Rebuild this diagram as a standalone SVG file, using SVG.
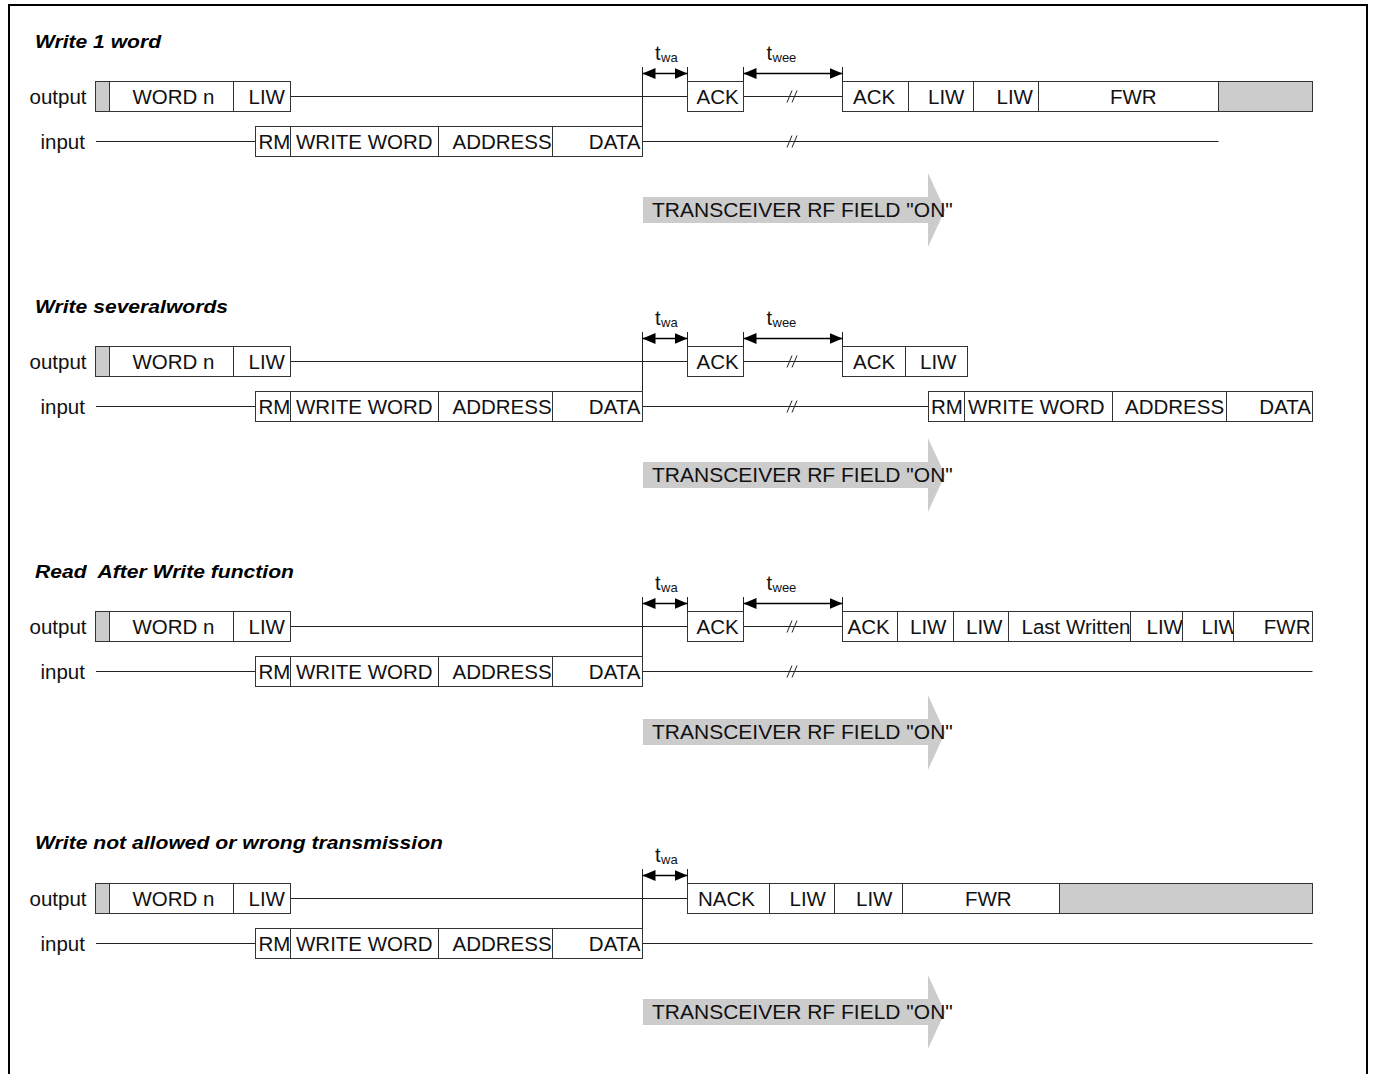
<svg xmlns="http://www.w3.org/2000/svg" width="1373" height="1074" viewBox="0 0 1373 1074">
<style>
.bx{fill:#fff;stroke:#333;stroke-width:1}
.gy{fill:#ccc;stroke:#333;stroke-width:1}
.ln{stroke:#222;stroke-width:1;fill:none}
.tk{stroke:#222;stroke-width:1;fill:none}
.dm{stroke:#000;stroke-width:1.5;fill:none;marker-start:url(#ah);marker-end:url(#ah)}
.t{font-family:"Liberation Sans",Arial,sans-serif;font-size:20.5px;fill:#111}
.ti{font-family:"Liberation Sans",Arial,sans-serif;font-size:19px;font-weight:bold;font-style:italic;fill:#000}
.tt{font-family:"Liberation Sans",Arial,sans-serif;font-size:20px;fill:#111}
.ts{font-family:"Liberation Sans",Arial,sans-serif;font-size:13px;fill:#111}
.ta{font-family:"Liberation Sans",Arial,sans-serif;font-size:21px;fill:#111}
.ar{fill:#cccccc}
.e{text-anchor:end}
</style>
<defs>
<marker id="ah" viewBox="0 0 13 11" markerWidth="13" markerHeight="11" refX="13" refY="5.5" orient="auto-start-reverse" markerUnits="userSpaceOnUse">
<path d="M0,0 L13,5.5 L0,11 z" fill="#000"/>
</marker>
</defs>
<rect width="1373" height="1074" fill="#fff"/>
<path d="M9,1074 V5 H1367 V1074" fill="none" stroke="#000" stroke-width="2"/>

<!-- Section 1 -->
<g id="sec1">
<text class="ti" x="35" y="48" textLength="126" lengthAdjust="spacingAndGlyphs">Write 1 word</text>
<text class="t" x="29.5" y="104">output</text>
<text class="t" x="40.5" y="149">input</text>
<g id="s1-connectors">
<path class="ln" d="M290.5,96.5 H687.5 M743.5,96.5 H842.5 M96,141.5 H255.5 M642.5,141.5 H1218.5"/>
<path class="ln" d="M787,102.5 L792,90.5 M792,102.5 L797,90.5 M787,147.5 L792,135.5 M792,147.5 L797,135.5"/>
<path class="tk" d="M642.5,67 V126.5 M687.5,67 V81.5 M743.5,67 V81.5 M842.5,67 V81.5"/>
<path class="dm" d="M642.5,73.5 H687.5"/>
<path class="dm" d="M743.5,73.5 H842.5"/>
<text class="tt" x="655" y="60">t</text><text class="ts" x="661" y="62">wa</text>
<text class="tt" x="766.5" y="60">t</text><text class="ts" x="772.5" y="62">wee</text>
</g>
<g id="s1-lead"><rect class="gy" x="95.5" y="81.5" width="14" height="30"/></g>
<g id="s1-wordn"><rect class="bx" x="109.5" y="81.5" width="124" height="30"/><text class="t" x="132.5" y="104">WORD n</text></g>
<g id="s1-liw0"><rect class="bx" x="233.5" y="81.5" width="57" height="30"/><text class="t" x="248.5" y="104">LIW</text></g>
<g id="s1-ack1"><rect class="bx" x="687.5" y="81.5" width="56" height="30"/><text class="t" x="696.5" y="104">ACK</text></g>
<g id="s1-ack2"><rect class="bx" x="842.5" y="81.5" width="66" height="30"/><text class="t" x="853" y="104">ACK</text></g>
<g id="s1-liw1"><rect class="bx" x="908.5" y="81.5" width="65" height="30"/><text class="t" x="928" y="104">LIW</text></g>
<g id="s1-liw2"><rect class="bx" x="973.5" y="81.5" width="65" height="30"/><text class="t" x="996.5" y="104">LIW</text></g>
<g id="s1-fwr"><rect class="bx" x="1038.5" y="81.5" width="180" height="30"/><text class="t" x="1110" y="104">FWR</text></g>
<g id="s1-tail"><rect class="gy" x="1218.5" y="81.5" width="94" height="30"/></g>
<g id="s1-rm"><rect class="bx" x="255.5" y="126.5" width="35" height="30"/><text class="t" x="258.5" y="149">RM</text></g>
<g id="s1-ww"><rect class="bx" x="290.5" y="126.5" width="148" height="30"/><text class="t" x="296" y="149">WRITE WORD</text></g>
<g id="s1-addr"><rect class="bx" x="438.5" y="126.5" width="114" height="30"/><text class="t" x="452.5" y="149">ADDRESS</text></g>
<g id="s1-data"><rect class="bx" x="552.5" y="126.5" width="90" height="30"/><text class="t e" x="640.5" y="149">DATA</text></g>
<g id="s1-field"><path class="ar" d="M643,197 H928 V173 L945,210 L928,247 V223 H643 z"/><text class="ta" x="652" y="217">TRANSCEIVER RF FIELD "ON"</text></g>
</g>

<!-- Section 2 -->
<g id="sec2" transform="translate(0,265)">
<text class="ti" x="35" y="48" textLength="193" lengthAdjust="spacingAndGlyphs">Write severalwords</text>
<text class="t" x="29.5" y="104">output</text>
<text class="t" x="40.5" y="149">input</text>
<g id="s2-connectors">
<path class="ln" d="M290.5,96.5 H687.5 M743.5,96.5 H842.5 M96,141.5 H255.5 M642.5,141.5 H928.5"/>
<path class="ln" d="M787,102.5 L792,90.5 M792,102.5 L797,90.5 M787,147.5 L792,135.5 M792,147.5 L797,135.5"/>
<path class="tk" d="M642.5,67 V126.5 M687.5,67 V81.5 M743.5,67 V81.5 M842.5,67 V81.5"/>
<path class="dm" d="M642.5,73.5 H687.5"/>
<path class="dm" d="M743.5,73.5 H842.5"/>
<text class="tt" x="655" y="60">t</text><text class="ts" x="661" y="62">wa</text>
<text class="tt" x="766.5" y="60">t</text><text class="ts" x="772.5" y="62">wee</text>
</g>
<g id="s2-lead"><rect class="gy" x="95.5" y="81.5" width="14" height="30"/></g>
<g id="s2-wordn"><rect class="bx" x="109.5" y="81.5" width="124" height="30"/><text class="t" x="132.5" y="104">WORD n</text></g>
<g id="s2-liw0"><rect class="bx" x="233.5" y="81.5" width="57" height="30"/><text class="t" x="248.5" y="104">LIW</text></g>
<g id="s2-ack1"><rect class="bx" x="687.5" y="81.5" width="56" height="30"/><text class="t" x="696.5" y="104">ACK</text></g>
<g id="s2-ack2"><rect class="bx" x="842.5" y="81.5" width="63" height="30"/><text class="t" x="853" y="104">ACK</text></g>
<g id="s2-liw1"><rect class="bx" x="905.5" y="81.5" width="62" height="30"/><text class="t" x="920" y="104">LIW</text></g>
<g id="s2-rm"><rect class="bx" x="255.5" y="126.5" width="35" height="30"/><text class="t" x="258.5" y="149">RM</text></g>
<g id="s2-ww"><rect class="bx" x="290.5" y="126.5" width="148" height="30"/><text class="t" x="296" y="149">WRITE WORD</text></g>
<g id="s2-addr"><rect class="bx" x="438.5" y="126.5" width="114" height="30"/><text class="t" x="452.5" y="149">ADDRESS</text></g>
<g id="s2-data"><rect class="bx" x="552.5" y="126.5" width="90" height="30"/><text class="t e" x="640.5" y="149">DATA</text></g>
<g id="s2-rm2"><rect class="bx" x="928.5" y="126.5" width="36" height="30"/><text class="t" x="931" y="149">RM</text></g>
<g id="s2-ww2"><rect class="bx" x="964.5" y="126.5" width="148" height="30"/><text class="t" x="968" y="149">WRITE WORD</text></g>
<g id="s2-addr2"><rect class="bx" x="1112.5" y="126.5" width="114" height="30"/><text class="t" x="1125" y="149">ADDRESS</text></g>
<g id="s2-data2"><rect class="bx" x="1226.5" y="126.5" width="86" height="30"/><text class="t e" x="1311" y="149">DATA</text></g>
<g id="s2-field"><path class="ar" d="M643,197 H928 V173 L945,210 L928,247 V223 H643 z"/><text class="ta" x="652" y="217">TRANSCEIVER RF FIELD "ON"</text></g>
</g>

<!-- Section 3 -->
<g id="sec3" transform="translate(0,530)">
<text class="ti" x="35" y="48" textLength="259" lengthAdjust="spacingAndGlyphs" xml:space="preserve">Read  After Write function</text>
<text class="t" x="29.5" y="104">output</text>
<text class="t" x="40.5" y="149">input</text>
<g id="s3-connectors">
<path class="ln" d="M290.5,96.5 H687.5 M743.5,96.5 H842.5 M96,141.5 H255.5 M642.5,141.5 H1312.5"/>
<path class="ln" d="M787,102.5 L792,90.5 M792,102.5 L797,90.5 M787,147.5 L792,135.5 M792,147.5 L797,135.5"/>
<path class="tk" d="M642.5,67 V126.5 M687.5,67 V81.5 M743.5,67 V81.5 M842.5,67 V81.5"/>
<path class="dm" d="M642.5,73.5 H687.5"/>
<path class="dm" d="M743.5,73.5 H842.5"/>
<text class="tt" x="655" y="60">t</text><text class="ts" x="661" y="62">wa</text>
<text class="tt" x="766.5" y="60">t</text><text class="ts" x="772.5" y="62">wee</text>
</g>
<g id="s3-lead"><rect class="gy" x="95.5" y="81.5" width="14" height="30"/></g>
<g id="s3-wordn"><rect class="bx" x="109.5" y="81.5" width="124" height="30"/><text class="t" x="132.5" y="104">WORD n</text></g>
<g id="s3-liw0"><rect class="bx" x="233.5" y="81.5" width="57" height="30"/><text class="t" x="248.5" y="104">LIW</text></g>
<g id="s3-ack1"><rect class="bx" x="687.5" y="81.5" width="56" height="30"/><text class="t" x="696.5" y="104">ACK</text></g>
<g id="s3-ack2"><rect class="bx" x="842.5" y="81.5" width="55" height="30"/><text class="t" x="847.5" y="104">ACK</text></g>
<g id="s3-liw1"><rect class="bx" x="897.5" y="81.5" width="56" height="30"/><text class="t" x="910" y="104">LIW</text></g>
<g id="s3-liw2"><rect class="bx" x="953.5" y="81.5" width="55" height="30"/><text class="t" x="966" y="104">LIW</text></g>
<g id="s3-last"><rect class="bx" x="1008.5" y="81.5" width="122" height="30"/><text class="t" x="1021.5" y="104">Last Written</text></g>
<g id="s3-liw3"><rect class="bx" x="1130.5" y="81.5" width="52" height="30"/><text class="t" x="1146.5" y="104">LIW</text></g>
<g id="s3-liw4"><rect class="bx" x="1182.5" y="81.5" width="51" height="30"/><text class="t" x="1201.5" y="104">LIW</text></g>
<g id="s3-fwr"><rect class="bx" x="1233.5" y="81.5" width="79" height="30"/><text class="t e" x="1310.5" y="104">FWR</text></g>
<g id="s3-rm"><rect class="bx" x="255.5" y="126.5" width="35" height="30"/><text class="t" x="258.5" y="149">RM</text></g>
<g id="s3-ww"><rect class="bx" x="290.5" y="126.5" width="148" height="30"/><text class="t" x="296" y="149">WRITE WORD</text></g>
<g id="s3-addr"><rect class="bx" x="438.5" y="126.5" width="114" height="30"/><text class="t" x="452.5" y="149">ADDRESS</text></g>
<g id="s3-data"><rect class="bx" x="552.5" y="126.5" width="90" height="30"/><text class="t e" x="640.5" y="149">DATA</text></g>
<g id="s3-field"><path class="ar" d="M643,189 H928 V165 L945,202.5 L928,240 V215 H643 z"/><text class="ta" x="652" y="209">TRANSCEIVER RF FIELD "ON"</text></g>
</g>

<!-- Section 4 -->
<g id="sec4" transform="translate(0,802)">
<text class="ti" x="35" y="47" textLength="408" lengthAdjust="spacingAndGlyphs">Write not allowed or wrong transmission</text>
<text class="t" x="29.5" y="104">output</text>
<text class="t" x="40.5" y="149">input</text>
<g id="s4-connectors">
<path class="ln" d="M290.5,96.5 H687.5 M96,141.5 H255.5 M642.5,141.5 H1312.5"/>
<path class="tk" d="M642.5,67 V126.5 M687.5,67 V81.5"/>
<path class="dm" d="M642.5,73.5 H687.5"/>
<text class="tt" x="655" y="60">t</text><text class="ts" x="661" y="62">wa</text>
</g>
<g id="s4-lead"><rect class="gy" x="95.5" y="81.5" width="14" height="30"/></g>
<g id="s4-wordn"><rect class="bx" x="109.5" y="81.5" width="124" height="30"/><text class="t" x="132.5" y="104">WORD n</text></g>
<g id="s4-liw0"><rect class="bx" x="233.5" y="81.5" width="57" height="30"/><text class="t" x="248.5" y="104">LIW</text></g>
<g id="s4-nack"><rect class="bx" x="687.5" y="81.5" width="82" height="30"/><text class="t" x="698" y="104">NACK</text></g>
<g id="s4-liw1"><rect class="bx" x="769.5" y="81.5" width="65" height="30"/><text class="t" x="789.5" y="104">LIW</text></g>
<g id="s4-liw2"><rect class="bx" x="834.5" y="81.5" width="68" height="30"/><text class="t" x="856" y="104">LIW</text></g>
<g id="s4-fwr"><rect class="bx" x="902.5" y="81.5" width="157" height="30"/><text class="t" x="965" y="104">FWR</text></g>
<g id="s4-tail"><rect class="gy" x="1059.5" y="81.5" width="253" height="30"/></g>
<g id="s4-rm"><rect class="bx" x="255.5" y="126.5" width="35" height="30"/><text class="t" x="258.5" y="149">RM</text></g>
<g id="s4-ww"><rect class="bx" x="290.5" y="126.5" width="148" height="30"/><text class="t" x="296" y="149">WRITE WORD</text></g>
<g id="s4-addr"><rect class="bx" x="438.5" y="126.5" width="114" height="30"/><text class="t" x="452.5" y="149">ADDRESS</text></g>
<g id="s4-data"><rect class="bx" x="552.5" y="126.5" width="90" height="30"/><text class="t e" x="640.5" y="149">DATA</text></g>
<g id="s4-field"><path class="ar" d="M643,197 H928 V173 L945,210 L928,247 V223 H643 z"/><text class="ta" x="652" y="217">TRANSCEIVER RF FIELD "ON"</text></g>
</g>
</svg>
